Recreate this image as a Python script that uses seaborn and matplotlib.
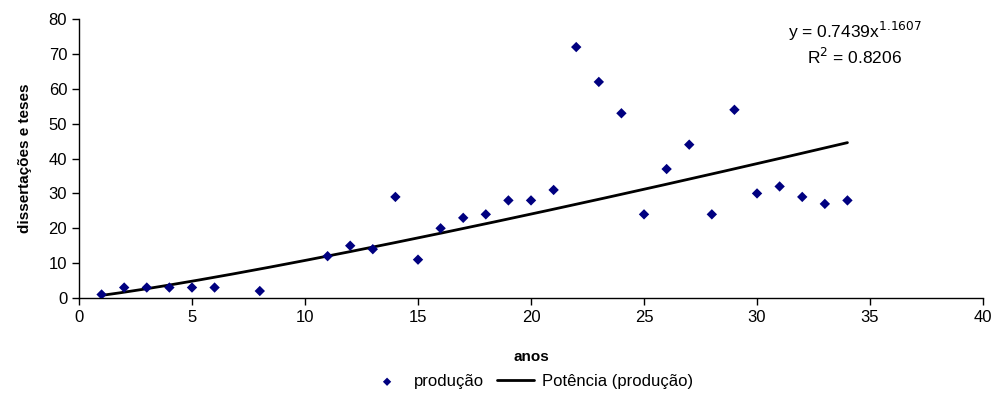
import numpy as np
import pandas as pd
import matplotlib.pyplot as plt
import seaborn as sns

# dados
anos = [1, 2, 3, 4, 5, 6, 8, 11, 12, 13, 14, 15, 16, 17, 18, 19, 20, 21,
        22, 23, 24, 25, 26, 27, 28, 29, 30, 31, 32, 33, 34]
producao = [1, 3, 3, 3, 3, 3, 2, 12, 15, 14, 29, 11, 20, 23, 24, 28, 28, 31,
            72, 62, 53, 24, 37, 44, 24, 54, 30, 32, 29, 27, 28]

# linha de tendência (potência)
coef_a = 0.7439
coef_b = 1.1607

df = pd.DataFrame({"anos": anos, "producao": producao})

sns.set_style("ticks")
plt.rcParams["font.family"] = ["Liberation Sans", "DejaVu Sans"]
plt.rcParams["text.color"] = "black"
plt.rcParams["axes.labelcolor"] = "black"

fig = plt.figure(figsize=(9.96, 4.17), dpi=100)
ax = fig.add_axes([0.0793, 0.2854, 0.9077, 0.6686])

xt = np.linspace(min(anos), max(anos), 200)
trend = coef_a * xt ** coef_b

sns.scatterplot(data=df, x="anos", y="producao", marker="D", s=28,
                color="#000080", edgecolor="none", ax=ax, label="produção",
                zorder=3)
ax.plot(xt, trend, color="black", lw=2, label="Potência (produção)", zorder=2)

ax.set_xlim(0, 40)
ax.set_ylim(0, 80)
ax.set_xticks(range(0, 41, 5))
ax.set_yticks(range(0, 81, 10))
ax.tick_params(direction="out", length=5, width=1, labelsize=12,
               colors="black")
for s in ["top", "right"]:
    ax.spines[s].set_visible(False)
for s in ["left", "bottom"]:
    ax.spines[s].set_color("black")
    ax.spines[s].set_linewidth(1)

ax.set_xlabel("anos", fontsize=11, fontweight="bold", labelpad=18)
ax.set_ylabel("dissertações e teses", fontsize=11, fontweight="bold",
              labelpad=12)

ax.text(0.858, 0.955, "y = 0.7439x$^{1.1607}$", transform=ax.transAxes,
        ha="center", va="center", fontsize=12.5)
ax.text(0.858, 0.865, "R$^2$ = 0.8206", transform=ax.transAxes,
        ha="center", va="center", fontsize=12.5)

leg = ax.legend(loc="center", bbox_to_anchor=(0.5, -0.30), ncol=2,
                frameon=False, fontsize=12, handlelength=2.2,
                columnspacing=0.8, handletextpad=0.5, markerscale=0.8)

fig.savefig("out.png", dpi=100)
